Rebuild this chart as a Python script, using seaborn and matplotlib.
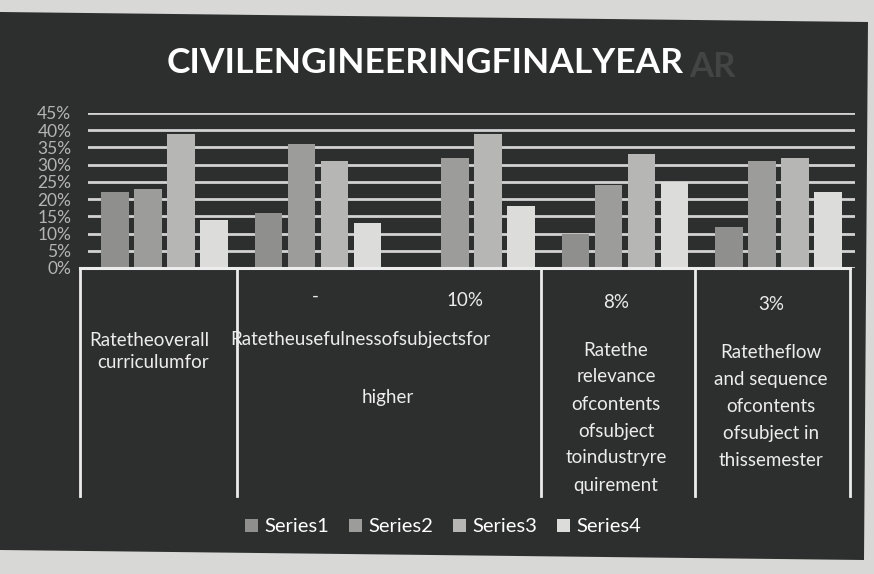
import numpy as np
import pandas as pd
import matplotlib
matplotlib.use("Agg")
import matplotlib.pyplot as plt
import seaborn as sns
from matplotlib.patches import Polygon

# values (percent)
categories = ["Overall curriculum", "Usefulness of subjects", "Higher", "Relevance to industry", "Flow and sequence"]
series_names = ["Series1", "Series2", "Series3", "Series4"]
series1 = [22, 16, 0, 10, 12]
series2 = [23, 36, 32, 24, 31]
series3 = [39, 31, 39, 33, 32]
series4 = [14, 13, 18, 25, 22]
ytick_vals = [0, 5, 10, 15, 20, 25, 30, 35, 40, 45]
bar_colors = ["#8f908e", "#9c9d9b", "#b6b7b5", "#dcdddb"]

df = pd.DataFrame({
    "category": categories * 4,
    "series": np.repeat(series_names, len(categories)),
    "value": series1 + series2 + series3 + series4,
})

plt.rcParams["font.family"] = ["Lato", "DejaVu Sans"]

W, H = 874, 574
fig = plt.figure(figsize=(W / 100, H / 100), dpi=100)
fig.patch.set_facecolor("#d8d8d6")
slide = Polygon([(0, 1 - 12 / H), (868 / W, 1 - 22 / H), (864 / W, 1 - 560 / H), (0, 1 - 550 / H)],
                closed=True, transform=fig.transFigure, facecolor="#2d2f2f", zorder=-5)
fig.patches.append(slide)

def px(x, y):
    return x / W, 1 - y / H

ax = fig.add_axes([88 / W, 1 - 268 / H, (855 - 88) / W, 155 / H])
ax.set_facecolor("none")
ax.set_zorder(2)
sns.barplot(data=df, x="category", y="value", hue="series", palette=bar_colors,
            width=0.86, gap=0.16, saturation=1, ax=ax, zorder=3)

ax.set_ylim(0, 45)
ax.set_xlim(-0.5, 4.5)
ax.set_yticks(ytick_vals)
ax.set_yticklabels([f"{v}%" for v in ytick_vals])
ax.yaxis.grid(True, color="#d2d2d2", linewidth=2)
ax.set_axisbelow(True)
ax.tick_params(axis="y", length=0, pad=12, labelcolor="#b4b4b4", labelsize=12.5)
ax.tick_params(axis="x", length=0)
ax.set_xticklabels([])
ax.set_xlabel("")
ax.set_ylabel("")
for s in ax.spines.values():
    s.set_visible(False)

# table below the bars
trans = ax.get_xaxis_transform()
ax.plot([-0.55, 4.47], [0, 0], transform=trans, color="#ececec", lw=2.2, clip_on=False, zorder=4)
for xv in [-0.55, 0.47, 2.45, 3.46, 4.47]:
    ax.plot([xv, xv], [0, -1.47], transform=trans, color="#ececec", lw=2, clip_on=False)

tc = "#ececec"
fs = 13.5
fig.text(*px(89, 340), "Ratetheoverall", ha="left", va="center", fontsize=fs, color=tc)
fig.text(*px(97, 363), "curriculumfor", ha="left", va="center", fontsize=fs, color=tc)
fig.text(*px(230, 340), "Ratetheusefulnessofsubjectsfor", ha="left", va="center", fontsize=fs, color=tc)
fig.text(*px(388, 397), "higher", ha="center", va="center", fontsize=fs, color=tc)
fig.text(*px(315, 296), "-", ha="center", va="center", fontsize=fs, color=tc)
fig.text(*px(465, 300), "10%", ha="center", va="center", fontsize=fs, color=tc)
fig.text(*px(616, 303), "8%", ha="center", va="center", fontsize=fs, color=tc)
fig.text(*px(771, 305), "3%", ha="center", va="center", fontsize=fs, color=tc)

col4 = ["Ratethe", "relevance", "ofcontents", "ofsubject", "toindustryre", "quirement"]
for i, line in enumerate(col4):
    fig.text(*px(616, 350 + i * 27), line, ha="center", va="center", fontsize=fs, color=tc)
col5 = ["Ratetheflow", "and sequence", "ofcontents", "ofsubject in", "thissemester"]
for i, line in enumerate(col5):
    fig.text(*px(771, 353 + i * 27), line, ha="center", va="center", fontsize=fs, color=tc)

# title
fig.text(*px(425, 63), "CIVILENGINEERINGFINALYEAR", ha="center", va="center",
         fontsize=25.5, fontweight="bold", color="white")
fig.text(*px(712, 67), "AR", ha="center", va="center", fontsize=25, fontweight="bold", color="#434545")

sns.move_legend(ax, "center", bbox_to_anchor=((443 - 88) / 767, (268 - 527) / 155), ncol=4,
                frameon=False, title=None, fontsize=14.5, labelcolor="white",
                handlelength=0.65, handleheight=0.65, handletextpad=0.3, columnspacing=1.0)

fig.savefig("out.png", dpi=100, facecolor=fig.get_facecolor())
